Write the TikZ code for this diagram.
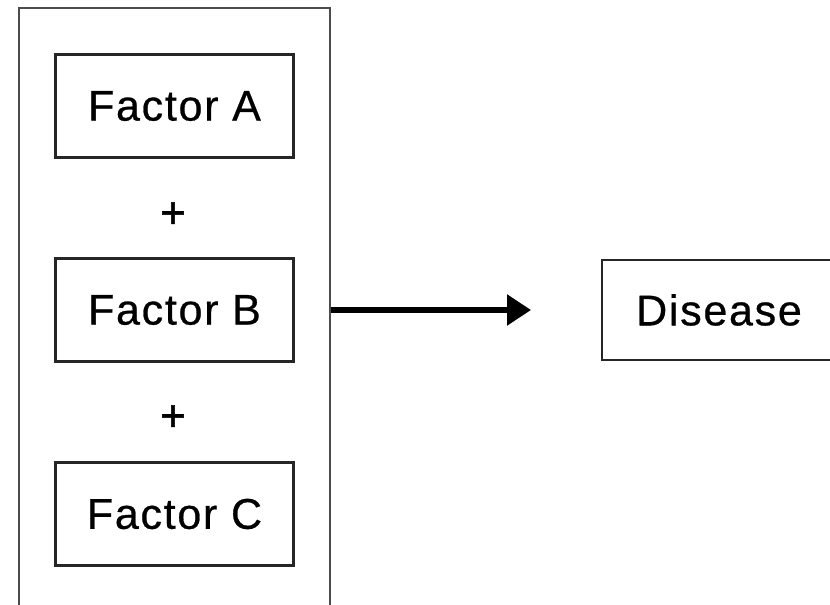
\documentclass[tikz,border=0pt]{standalone}
\usepackage{fontspec}
\setmainfont{Liberation Sans}
\usetikzlibrary{arrows.meta}
\begin{document}
\begin{tikzpicture}[x=1pt,y=-1pt,
  factorbox/.style={draw=black!85,line width=2.6pt,minimum width=238pt,minimum height=103pt,
    inner sep=0pt,font=\fontsize{43}{50}\selectfont\addfontfeatures{LetterSpace=4,FakeBold=0.6}},
  plussign/.style={font=\fontsize{44}{48}\selectfont\addfontfeatures{FakeBold=1.2},inner sep=0pt},
  causearrow/.style={line width=5.5pt,-{Triangle[length=24pt,width=30pt]}}]
  \useasboundingbox (0,0) rectangle (830,605);
  \fill[white] (0,0) rectangle (830,605);
  % enclosing group of factors
  \node[draw=black!70,line width=2pt,minimum width=311pt,minimum height=600pt,inner sep=0pt] (group) at (174.5,308) {};
  \node[factorbox] (fa) at (174.5,106) {Factor A};
  \node[plussign] (p1) at (173,215) {+};
  \node[factorbox] (fb) at (174.5,310) {Factor B};
  \node[plussign] (p2) at (173,418) {+};
  \node[factorbox] (fc) at (174.5,514) {Factor C};
  % outcome
  \node[factorbox,minimum width=240pt,minimum height=100pt] (dis) at (722,310) {\hspace*{-6pt}Disease};
  \coordinate (tip) at (531,310);
  \draw[causearrow] (group.east |- fb) -- (tip);
\end{tikzpicture}
\end{document}
